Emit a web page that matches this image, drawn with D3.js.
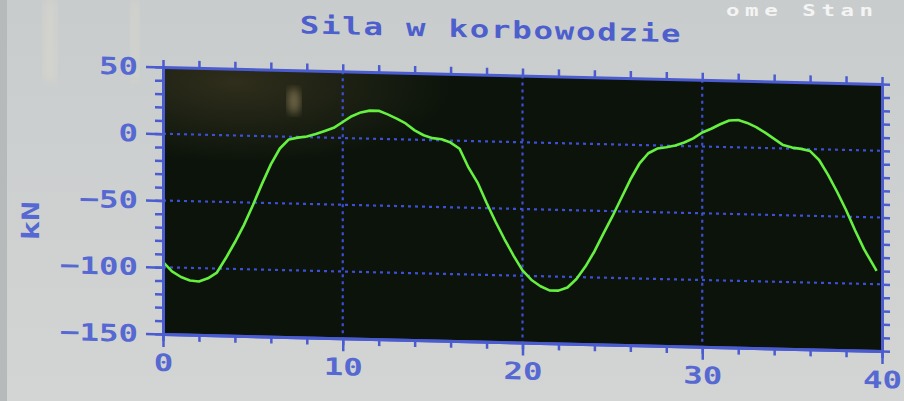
<!DOCTYPE html>
<html><head><meta charset="utf-8">
<script src="https://cdn.jsdelivr.net/npm/d3@7"></script>
<style>html,body{margin:0;padding:0;background:#cfd2d2;overflow:hidden}</style>
</head><body>
<svg id="c" width="904" height="401"></svg>
<script>
// ---- data ----
const title = "Sila w korbowodzie";
const yLabel = "kN";
const cornerText = "ome Stan";
const time = [0,0.5,1,1.5,2,2.5,3,3.5,4,4.5,5,5.5,6,6.5,7,7.5,8,8.5,9,9.5,
  10,10.5,11,11.5,12,12.5,13,13.5,14,14.5,15,15.5,16,16.5,17,17.5,18,18.5,19,19.5,
  20,20.5,21,21.5,22,22.5,23,23.5,24,24.5,25,25.5,26,26.5,27,27.5,28,28.5,29,29.5,
  30,30.5,31,31.5,32,32.5,33,33.5,34,34.5,35,35.5,36,36.5,37,37.5,38,38.5,39,39.5,39.7];
const force = [-96,-103,-107,-109.5,-110,-107.5,-103,-92,-80,-67,-52,-36,-21,-9,-2,-0.5,0.5,2.5,5,7.5,
  12,16.5,19.5,21,21,18.5,15.5,12,7,3.5,1.5,0.8,-1.5,-6,-20,-31,-46,-60,-73,-85,
  -96,-103,-107.5,-110.5,-110.5,-108,-101.5,-92,-80.5,-67,-54,-40,-26,-14,-6,-2.3,-1.2,0.3,2.7,6,
  10.5,13.5,17,20,20.5,18.5,15.5,11.5,7,2.5,0.8,0,-1.5,-8,-19,-31.5,-45,-60,-74,-85.5,-90];
const xTicks = [0,10,20,30,40];
const yTicks = [50,0,-50,-100,-150];
const xGrid = [10,20,30];
const yGrid = [0,-50,-100];
const xMinor = d3.range(0,41,2);
const yMinor = d3.range(-150,51,10);

// ---- layout ----
const W=904,H=401;
const L=163,R=882,T=67,B=334;
const k=0.0237; // photo shear
const blue="#4a5ccf", labelBlue="#5668d2";
const font='"DejaVu Sans Mono", monospace';
const SX=1.35; // wide screen font

const svg=d3.select("#c");
const defs=svg.append("defs");
const bgG=defs.append("linearGradient").attr("id","bg").attr("x1",0).attr("y1",0).attr("x2",0).attr("y2",1);
bgG.append("stop").attr("offset","0").attr("stop-color","#c9cccd");
bgG.append("stop").attr("offset","1").attr("stop-color","#d3d5d4");
const rg=defs.append("radialGradient").attr("id","refl").attr("cx",0.1).attr("cy",0.05).attr("r",0.3);
rg.append("stop").attr("offset","0").attr("stop-color","#302e1c");
rg.append("stop").attr("offset","0.7").attr("stop-color","#161c10");
rg.append("stop").attr("offset","1").attr("stop-color","#0c130a");
defs.append("filter").attr("id","blur").append("feGaussianBlur").attr("stdDeviation",4);

svg.append("rect").attr("width",W).attr("height",H).attr("fill","url(#bg)");
svg.append("rect").attr("x",0).attr("width",7).attr("height",H).attr("fill","#b7baba");
svg.append("rect").attr("x",44).attr("y",0).attr("width",12).attr("height",80).attr("fill","#e4e0cc").attr("opacity",0.35).attr("filter","url(#blur)");
svg.append("rect").attr("x",131).attr("y",0).attr("width",8).attr("height",80).attr("fill","#e4e0cc").attr("opacity",0.35).attr("filter","url(#blur)");
// white text top right
svg.append("text").attr("transform","translate(726,16) scale(1.4,1)").attr("fill","#f4f4f4")
  .attr("font-family",font).attr("font-weight","bold").attr("font-size",16).attr("letter-spacing",4)
  .text(cornerText);

const g=svg.append("g").attr("transform",`matrix(1,${k},0,1,0,${-k*L})`);

const x=d3.scaleLinear().domain([0,40]).range([L,R]);
const y=d3.scaleLinear().domain([-150,50]).range([B,T]);

// plot background
g.append("rect").attr("x",L).attr("y",T).attr("width",R-L).attr("height",B-T).attr("fill","url(#refl)");
g.append("ellipse").attr("cx",294).attr("cy",98).attr("rx",6).attr("ry",13).attr("fill","#a8956a").attr("opacity",0.6).attr("filter","url(#blur)");

// grid
g.append("g").selectAll("line").data(yGrid).join("line")
  .attr("x1",L).attr("x2",R).attr("y1",d=>y(d)).attr("y2",d=>y(d))
  .attr("stroke","#3d4fd6").attr("stroke-width",2.2).attr("stroke-dasharray","3 4");
g.append("g").selectAll("line").data(xGrid).join("line")
  .attr("y1",T).attr("y2",B).attr("x1",d=>x(d)).attr("x2",d=>x(d))
  .attr("stroke","#3d4fd6").attr("stroke-width",2.2).attr("stroke-dasharray","3 4");

// curve
const pts=time.map((t,i)=>({t,v:force[i]}));
g.append("path").datum(pts)
  .attr("d",d3.line().x(d=>x(d.t)).y(d=>y(d.v)))
  .attr("fill","none").attr("stroke","#66f040").attr("stroke-width",2.6).attr("stroke-linejoin","round");

function styleAxis(sel){
  sel.select(".domain").attr("stroke",blue).attr("stroke-width",3);
  sel.selectAll(".tick line").attr("stroke",blue).attr("stroke-width",2.5);
  sel.selectAll(".tick text").attr("fill",labelBlue).attr("font-family",font)
    .attr("font-weight","bold").attr("font-size",24)
    .each(function(){
      const t=d3.select(this);
      const tx=+t.attr("x")||0, ty=+t.attr("y")||0;
      t.attr("x",0).attr("y",0).attr("transform",`translate(${tx},${ty}) scale(${SX},1)`);
    });
}
// bottom
g.append("g").attr("transform",`translate(0,${B})`)
  .call(d3.axisBottom(x).tickValues(xMinor).tickSize(7).tickFormat("").tickSizeOuter(0)).call(styleAxis);
g.append("g").attr("transform",`translate(0,${B})`)
  .call(d3.axisBottom(x).tickValues(xTicks).tickSize(13).tickPadding(7).tickSizeOuter(0)).call(styleAxis);
// top
g.append("g").attr("transform",`translate(0,${T})`)
  .call(d3.axisTop(x).tickValues(xMinor).tickSize(7).tickFormat("").tickSizeOuter(0)).call(styleAxis);
// left
g.append("g").attr("transform",`translate(${L},0)`)
  .call(d3.axisLeft(y).tickValues(yMinor).tickSize(8).tickFormat("").tickSizeOuter(0)).call(styleAxis);
g.append("g").attr("transform",`translate(${L},0)`)
  .call(d3.axisLeft(y).tickValues(yTicks).tickSize(17).tickPadding(8).tickSizeOuter(0)).call(styleAxis)
  .selectAll(".tick text").attr("dy","0.33em");
// right
g.append("g").attr("transform",`translate(${R},0)`)
  .call(d3.axisRight(y).tickValues(yMinor).tickSize(8).tickFormat("").tickSizeOuter(0)).call(styleAxis);

// title
g.append("text").attr("transform",`translate(491,30) scale(${SX},1)`).attr("text-anchor","middle")
  .attr("fill","#4d5fcc").attr("font-family",font).attr("font-weight","bold")
  .attr("font-size",24).attr("letter-spacing",1.3).text(title);
// y label
g.append("text").attr("transform",`translate(39,224) rotate(-90) scale(${SX},1)`).attr("text-anchor","middle")
  .attr("fill",labelBlue).attr("font-family",font).attr("font-weight","bold")
  .attr("font-size",24).text(yLabel);
</script>
</body></html>
